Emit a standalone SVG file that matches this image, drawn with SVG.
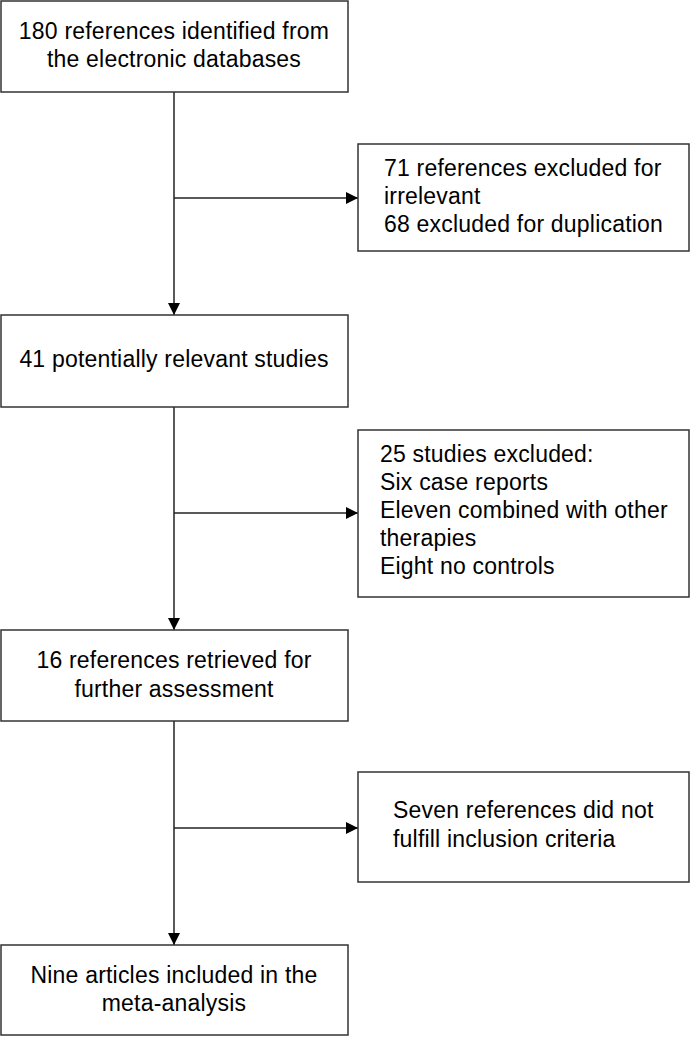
<svg xmlns="http://www.w3.org/2000/svg" width="690" height="1037" viewBox="0 0 690 1037">
<style>
.box{fill:#fff;stroke:#333;stroke-width:1.5}
.t{font-family:"Liberation Sans",Arial,sans-serif;font-size:23px;letter-spacing:0.2px;fill:#000}
.c{text-anchor:middle}
.ln{stroke:#222;stroke-width:1.5;fill:none}
</style>
<defs>
<marker id="ah" viewBox="0 0 12 12" refX="12" refY="6" markerWidth="12" markerHeight="12" markerUnits="userSpaceOnUse" orient="auto">
<path d="M0,0 L12,6 L0,12 Z" fill="#000"/>
</marker>
</defs>
<rect width="690" height="1037" fill="#fff"/>
<g id="connectors">
<line class="ln" x1="174" y1="92" x2="174" y2="315" marker-end="url(#ah)"/>
<line class="ln" x1="174" y1="198" x2="358" y2="198" marker-end="url(#ah)"/>
<line class="ln" x1="174" y1="407" x2="174" y2="630" marker-end="url(#ah)"/>
<line class="ln" x1="174" y1="513" x2="358" y2="513" marker-end="url(#ah)"/>
<line class="ln" x1="174" y1="721" x2="174" y2="945" marker-end="url(#ah)"/>
<line class="ln" x1="174" y1="828" x2="358" y2="828" marker-end="url(#ah)"/>
</g>
<g id="n1">
<rect class="box" x="1" y="1" width="347" height="91"/>
<text class="t c" x="174" y="39">180 references identified from</text>
<text class="t c" x="174" y="67">the electronic databases</text>
</g>
<g id="n2">
<rect class="box" x="358" y="144" width="331" height="107"/>
<text class="t" x="384" y="176">71 references excluded for</text>
<text class="t" x="384" y="204">irrelevant</text>
<text class="t" x="384" y="232">68 excluded for duplication</text>
</g>
<g id="n3">
<rect class="box" x="1" y="315" width="347" height="92"/>
<text class="t c" x="174" y="367">41 potentially relevant studies</text>
</g>
<g id="n4">
<rect class="box" x="358" y="430" width="331" height="167"/>
<text class="t" x="380" y="462">25 studies excluded:</text>
<text class="t" x="380" y="490">Six case reports</text>
<text class="t" x="380" y="518">Eleven combined with other</text>
<text class="t" x="380" y="546">therapies</text>
<text class="t" x="380" y="574">Eight no controls</text>
</g>
<g id="n5">
<rect class="box" x="1" y="630" width="347" height="91"/>
<text class="t c" x="174" y="668">16 references retrieved for</text>
<text class="t c" x="174" y="697">further assessment</text>
</g>
<g id="n6">
<rect class="box" x="358" y="772" width="331" height="110"/>
<text class="t" x="393" y="818">Seven references did not</text>
<text class="t" x="393" y="847">fulfill inclusion criteria</text>
</g>
<g id="n7">
<rect class="box" x="1" y="945" width="347" height="90"/>
<text class="t c" x="174" y="983">Nine articles included in the</text>
<text class="t c" x="174" y="1011">meta-analysis</text>
</g>
</svg>
